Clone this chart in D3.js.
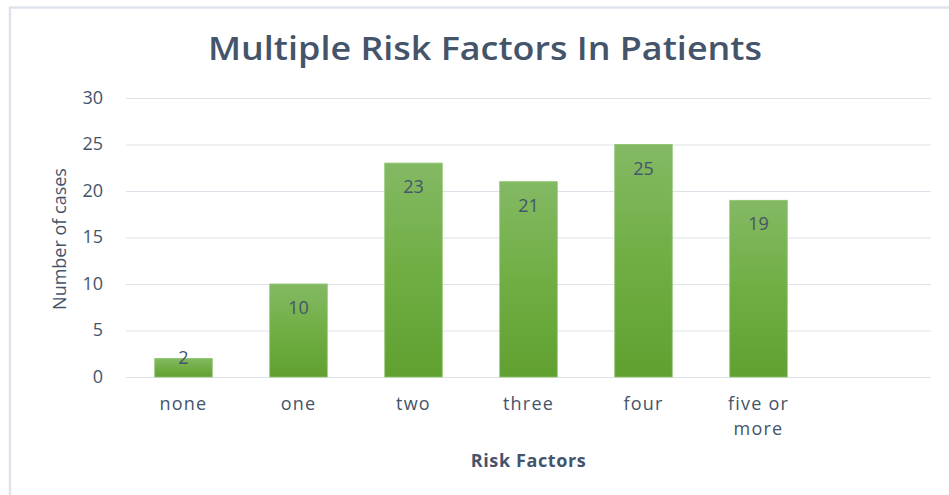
<!DOCTYPE html>
<html>
<head>
<meta charset="utf-8">
<script src="https://cdn.jsdelivr.net/npm/d3@7"></script>
<style>
  body { margin: 0; background: #fff; }
  text { font-family: "Open Sans", "Noto Sans", sans-serif; }
</style>
</head>
<body>
<div id="chart"></div>
<script>
// data
var categories = ["none", "one", "two", "three", "four", "five or more", ""];
var cases = [2, 10, 23, 21, 25, 19];
var yTicks = [0, 5, 10, 15, 20, 25, 30];

var w = 949, h = 495;
var plot = {left: 126, right: 931, top: 98, bottom: 377};
var textColor = "#44546a";

var svg = d3.select("#chart").append("svg")
  .attr("width", w)
  .attr("height", h);

// frame (only left and top edges show in the picture)
svg.append("path")
  .attr("d", "M10," + h + " L10,7.5 L" + w + ",7.5")
  .attr("fill", "none")
  .attr("stroke", "#dfe4ec")
  .attr("stroke-width", 2.5);

var x = d3.scaleBand()
  .domain(categories)
  .range([plot.left, plot.right])
  .paddingInner(0.5)
  .paddingOuter(0.25);

var y = d3.scaleLinear()
  .domain([0, 30])
  .range([plot.bottom, plot.top]);

var grad = svg.append("defs").append("linearGradient")
  .attr("id", "barGrad")
  .attr("x1", 0).attr("y1", 0).attr("x2", 0).attr("y2", 1);
grad.append("stop").attr("offset", "0%").attr("stop-color", "#84b964");
grad.append("stop").attr("offset", "50%").attr("stop-color", "#70ae44");
grad.append("stop").attr("offset", "100%").attr("stop-color", "#60a030");

// gridlines
svg.append("g")
  .selectAll("line")
  .data(yTicks)
  .enter().append("line")
  .attr("x1", plot.left)
  .attr("x2", plot.right)
  .attr("y1", function(d) { return y(d) + 0.5; })
  .attr("y2", function(d) { return y(d) + 0.5; })
  .attr("stroke", "#dde1e8")
  .attr("stroke-width", 1.2);

// y axis labels
var yAxis = d3.axisLeft(y).tickValues(yTicks).tickSize(0).tickPadding(0);
var gy = svg.append("g")
  .attr("transform", "translate(103,0)")
  .call(yAxis);
gy.select(".domain").remove();
gy.selectAll("text")
  .attr("fill", textColor)
  .attr("dy", "0.3em")
  .style("font-size", "18px");

// bars
svg.append("g")
  .selectAll("rect")
  .data(cases)
  .enter().append("rect")
  .attr("x", function(d, i) { return x(categories[i]); })
  .attr("y", function(d) { return y(d); })
  .attr("width", x.bandwidth())
  .attr("height", function(d) { return y(0) - y(d); })
  .attr("fill", "url(#barGrad)")
  .attr("stroke", "#8cc46a")
  .attr("stroke-width", 0.8);

// value labels, inside end
svg.append("g")
  .selectAll("text")
  .data(cases)
  .enter().append("text")
  .attr("x", function(d, i) { return x(categories[i]) + x.bandwidth() / 2; })
  .attr("y", function(d) { return Math.min(y(d) + 30, y(0) - 13); })
  .attr("text-anchor", "middle")
  .attr("fill", textColor)
  .style("font-size", "18px")
  .text(function(d) { return d; });

// category labels (wrapped like the original)
var xLabels = svg.append("g")
  .selectAll("text")
  .data(categories.filter(function(c) { return c !== ""; }))
  .enter().append("text")
  .attr("x", function(d) { return x(d) + x.bandwidth() / 2; })
  .attr("y", 410)
  .attr("text-anchor", "middle")
  .attr("fill", textColor)
  .style("font-size", "18px")
  .style("letter-spacing", "1.2px");
xLabels.each(function(d) {
  var lines = d === "five or more" ? ["five or", "more"] : [d];
  var t = d3.select(this);
  lines.forEach(function(l, k) {
    t.append("tspan")
      .attr("x", t.attr("x"))
      .attr("dy", k === 0 ? 0 : 25)
      .text(l);
  });
});

// axis titles
svg.append("text")
  .attr("x", (plot.left + plot.right) / 2)
  .attr("y", 467)
  .attr("text-anchor", "middle")
  .attr("fill", textColor)
  .style("font-size", "18px")
  .style("font-weight", 700)
  .style("letter-spacing", "0.6px")
  .text("Risk Factors");

svg.append("text")
  .attr("transform", "translate(66,239) rotate(-90)")
  .attr("text-anchor", "middle")
  .attr("fill", textColor)
  .style("font-size", "18px")
  .text("Number of cases");

// title
svg.append("text")
  .attr("x", 485)
  .attr("y", 60)
  .attr("text-anchor", "middle")
  .attr("fill", textColor)
  .attr("textLength", 554)
  .attr("lengthAdjust", "spacingAndGlyphs")
  .style("font-size", "32px")
  .style("font-weight", 600)
  .text("Multiple Risk Factors In Patients");
</script>
</body>
</html>
